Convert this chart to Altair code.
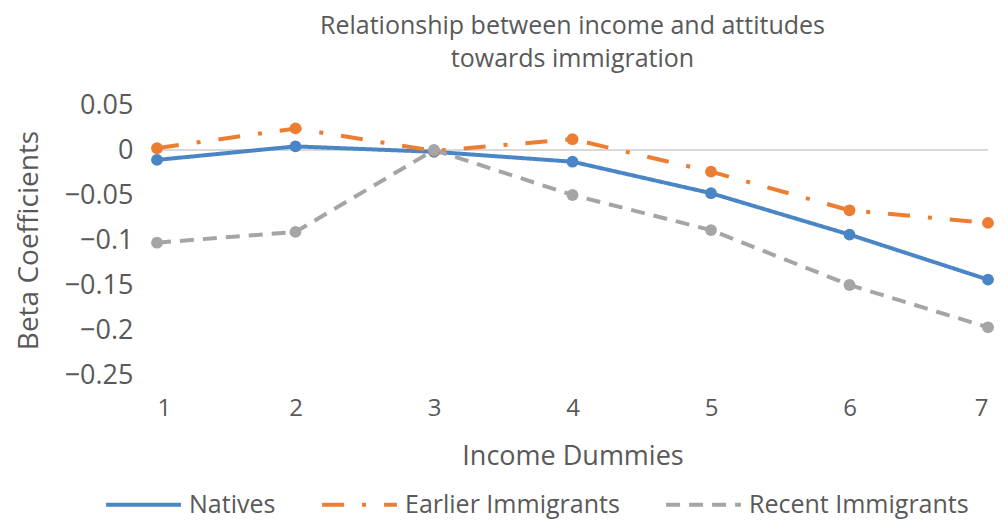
import altair as alt
import pandas as pd

income = [1, 2, 3, 4, 5, 6, 7]
natives = [-0.011, 0.004, -0.002, -0.013, -0.048, -0.094, -0.144]
earlier = [0.002, 0.024, -0.001, 0.012, -0.024, -0.067, -0.081]
recent = [-0.103, -0.091, 0.000, -0.050, -0.089, -0.150, -0.197]
series_names = ["Natives", "Earlier Immigrants", "Recent Immigrants"]
colors = ["#4A86C5", "#ED7D31", "#A5A5A5"]
y_ticks = [0.05, 0, -0.05, -0.1, -0.15, -0.2, -0.25]

rows = []
for name, vals in zip(series_names, [natives, earlier, recent]):
    for x, v in zip(income, vals):
        rows.append({"income": x, "beta": v, "series": name})
df = pd.DataFrame(rows)

FONT = "Open Sans"
TXT = "#595959"

x_enc = alt.X("income:Q", scale=alt.Scale(domain=[1, 7], nice=False, zero=False),
              axis=alt.Axis(values=income, format="d", title="Income Dummies",
                            grid=False, domain=False, ticks=False,
                            labelPadding=21, titlePadding=23,
                            labelFontSize=24, titleFontSize=27,
                            labelColor=TXT, titleColor=TXT,
                            labelFont=FONT, titleFont=FONT, titleFontWeight="normal"))
y_enc = alt.Y("beta:Q", scale=alt.Scale(domain=[-0.25, 0.05], nice=False, zero=False),
              axis=alt.Axis(values=y_ticks, title="Beta Coefficients",
                            labelExpr="datum.value == 0 ? '0' : replace(format(datum.value, '.2~f'), '-', '\u2212')",
                            grid=False, domain=False, ticks=False,
                            labelPadding=24, titlePadding=21,
                            labelFontSize=27, titleFontSize=28,
                            labelColor=TXT, titleColor=TXT,
                            labelFont=FONT, titleFont=FONT, titleFontWeight="normal"))

color_scale = alt.Scale(domain=series_names, range=colors)
dash_scale = alt.Scale(domain=series_names, range=[[1, 0], [22, 18, 4, 18], [14, 9]])

zero_line = alt.Chart(df).mark_rule(color="#D9D9D9", strokeWidth=1.5).encode(
    y=alt.datum(0)
)

lines = alt.Chart(df).mark_line(strokeWidth=4).encode(
    x=x_enc,
    y=y_enc,
    color=alt.Color("series:N", scale=color_scale, sort=series_names,
                    legend=alt.Legend(title=None, orient="none", direction="horizontal",
                                      legendX=-53, legendY=360,
                                      symbolType="stroke", symbolSize=5600,
                                      symbolStrokeWidth=4,
                                      labelFontSize=25, labelColor=TXT, labelFont=FONT,
                                      labelLimit=0,
                                      columnPadding=38, labelOffset=6)),
    strokeDash=alt.StrokeDash("series:N", scale=dash_scale, sort=series_names),
    detail="series:N",
)

points = alt.Chart(df).mark_point(filled=True, size=140, opacity=1).encode(
    x="income:Q",
    y="beta:Q",
    color=alt.Color("series:N", scale=color_scale, legend=None),
)

chart = alt.layer(zero_line, lines, points).properties(
    width=831,
    height=270,
    background="white",
    title=alt.Title(
        text=["Relationship between income and attitudes", "towards immigration"],
        fontSize=25, font=FONT, color=TXT, fontWeight="normal",
        lineHeight=33, offset=19, anchor="middle",
    ),
    autosize=alt.AutoSizeParams(type="none"),
    padding={"left": 149, "top": 97, "right": 11, "bottom": 145},
).configure_view(strokeWidth=0).configure_axis(
    domain=False, ticks=False, grid=False
)

chart.save("out.html", embed_options={"renderer": "svg", "actions": False})
